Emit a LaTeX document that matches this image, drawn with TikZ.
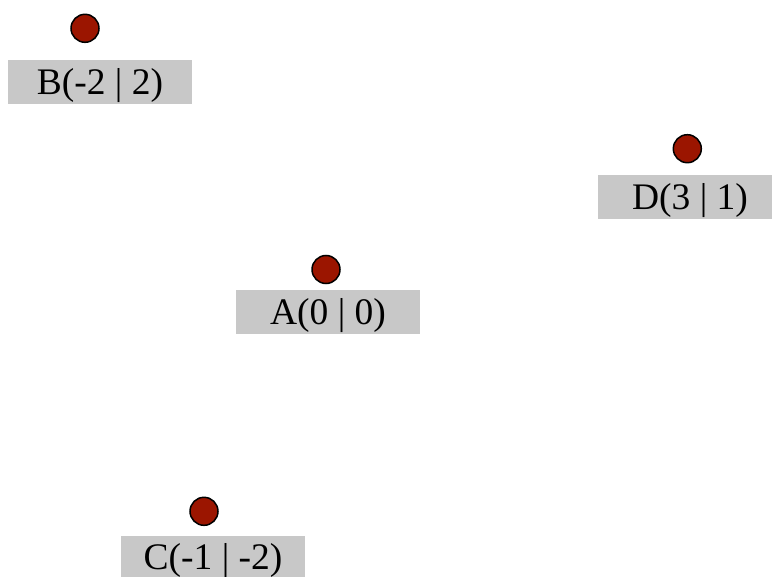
\documentclass[tikz,border=0pt]{standalone}
\usepackage{fontspec}
\setmainfont{Liberation Serif}
\definecolor{ptred}{RGB}{155,21,0}
\definecolor{tagbg}{RGB}{200,200,200}
\tikzset{
  pt/.style={circle, draw=black, line width=1.5bp, fill=ptred, minimum size=28bp, inner sep=0pt},
  tag/.style={rectangle, fill=tagbg, inner sep=0pt, minimum width=184bp,
    text height=34.4bp, text depth=9.6bp, font=\fontsize{37.5bp}{40bp}\selectfont}
}
\begin{document}
\begin{tikzpicture}[x=1bp, y=-1bp]
  \useasboundingbox (0,0) rectangle (772,577);
  \clip (0,0) rectangle (772,577);
  % points
  \node[pt] (A) at (326,269.5) {};
  \node[pt] (B) at (85,28.3) {};
  \node[pt] (C) at (204,511.3) {};
  \node[pt] (D) at (687.3,148.7) {};
  % coordinate labels
  \node[tag] (lA) at (328,312.2) {A(0 | 0)};
  \node[tag] (lB) at (100,82.2) {B(-2 | 2)};
  \node[tag] (lC) at (213,557.5) {C(-1 | -2)};
  \node[tag] (lD) at (690,196.8) {D(3 | 1)};
\end{tikzpicture}
\end{document}
